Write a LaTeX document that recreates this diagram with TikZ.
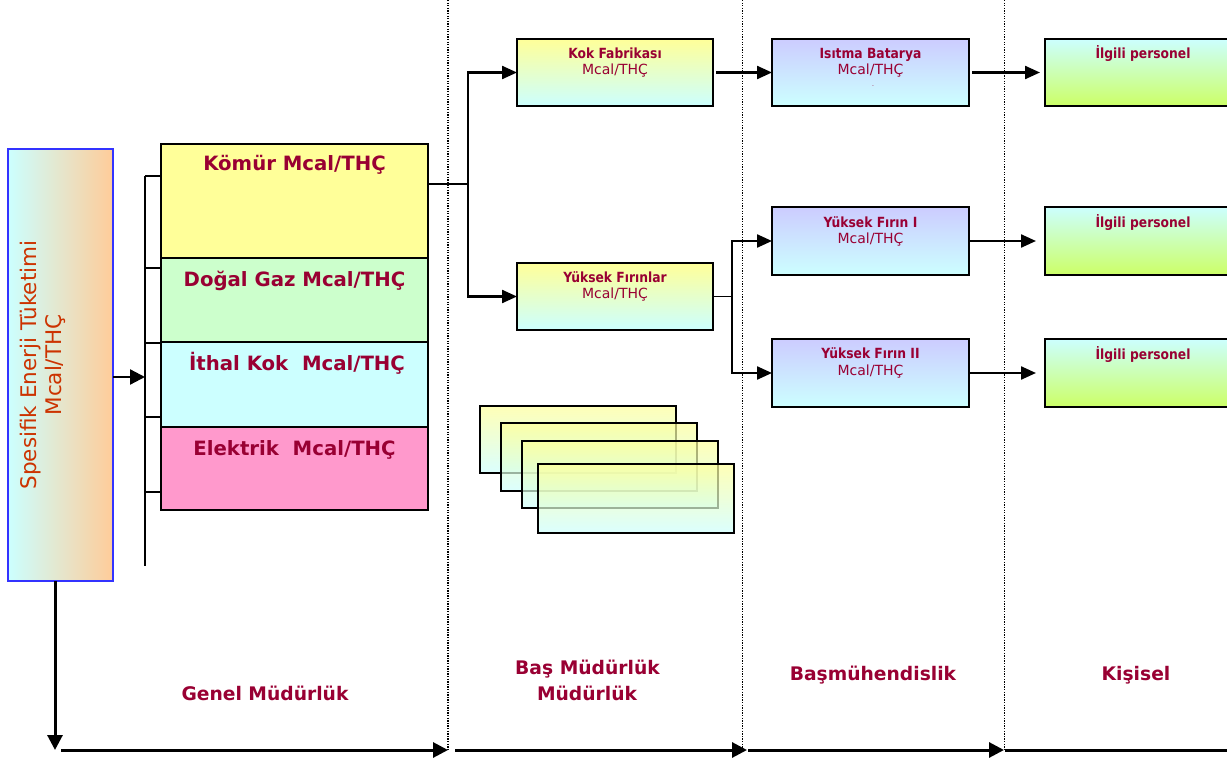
\documentclass[tikz,border=0pt]{standalone}
\usepackage{fontspec}
\setmainfont{DejaVu Sans}
\newfontfamily\tah{DejaVu Sans}[FakeStretch=0.88]
\usetikzlibrary{arrows.meta,calc}
\definecolor{crim}{RGB}{153,0,51}
\definecolor{orng}{RGB}{204,51,0}
\definecolor{cyanL}{RGB}{204,255,255}
\definecolor{yelL}{RGB}{255,255,153}
\definecolor{grnL}{RGB}{204,255,204}
\definecolor{pinkL}{RGB}{255,153,204}
\definecolor{lavL}{RGB}{204,204,255}
\definecolor{limeL}{RGB}{204,255,102}
\definecolor{peachL}{RGB}{255,204,153}
\definecolor{blueB}{RGB}{51,51,255}
\begin{document}
\begin{tikzpicture}[x=1pt,y=-1pt,
  box/.style={draw=black,line width=2.5pt,inner sep=0pt,outer sep=0pt},
  ybox/.style={box,top color=yelL,bottom color=cyanL,minimum width=196pt,minimum height=67pt},
  lbox/.style={box,top color=lavL,bottom color=cyanL,minimum width=197pt,minimum height=68pt},
  gbox/.style={box,top color=cyanL,bottom color=limeL,minimum width=197pt,minimum height=68pt},
  conn/.style={line width=2.3pt,draw=black},
  arr/.style={conn,-{Triangle[length=15pt,width=13pt]}},
  barr/.style={line width=3pt,-{Triangle[length=15pt,width=15pt]}},
  dotline/.style={line width=1.6pt,dash pattern=on 1.3pt off 1.3pt},
  bigt/.style={font=\fontsize{19.7}{23}\selectfont\bfseries,text=crim,inner sep=0pt,anchor=base},
  tt/.style={font=\tah\bfseries\fontsize{14}{16}\selectfont,text=crim,inner sep=0pt,anchor=base},
  ut/.style={font=\fontsize{14}{16}\selectfont,text=crim,inner sep=0pt,anchor=base},
  lab/.style={font=\fontsize{18.7}{22}\selectfont\bfseries,text=crim,inner sep=0pt,anchor=base},
  page/.style={draw=black,line width=2.5pt,top color=yelL,bottom color=cyanL,fill opacity=0.7,draw opacity=1}
]
\useasboundingbox (0,0) rectangle (1227,760);
\fill[white] (0,0) rectangle (1227,760);
\clip (0,0) rectangle (1227,760);

% dotted separators
\draw[dotline] (448,0) -- (448,750);
\draw[dotline] (742.5,0) -- (742.5,750);
\draw[dotline] (1004.5,0) -- (1004.5,750);

% left box
\node[box,left color=cyanL,right color=peachL,draw=blueB,minimum width=105pt,minimum height=432pt] (spec) at (60.5,365) {};
\node[rotate=90,align=center,font=\fontsize{21.5}{25}\selectfont,text=orng,inner sep=0pt] (specT) at (43,365) {Spesifik Enerji Tüketimi\\Mcal/THÇ};

% stacked boxes
\node[box,fill=yelL,minimum width=267pt,minimum height=114pt] (kom) at (294.5,201) {};
\node[box,fill=grnL,minimum width=267pt,minimum height=84pt] (dog) at (294.5,300) {};
\node[box,fill=cyanL,minimum width=267pt,minimum height=85pt] (ith) at (294.5,384.5) {};
\node[box,fill=pinkL,minimum width=267pt,minimum height=83pt] (elk) at (294.5,468.5) {};
\node[bigt] (komT) at (294.5,170.5) {Kömür Mcal/THÇ};
\node[bigt] (dogT) at (294.5,286.5) {Doğal Gaz Mcal/THÇ};
\node[bigt] (ithT) at (297,370) {İthal Kok\ \ Mcal/THÇ};
\node[bigt] (elkT) at (294.5,455) {Elektrik\ \ Mcal/THÇ};

% bracket
\coordinate (bt) at (145,176);
\coordinate (bb) at (145,566);
\coordinate (b2) at (145,268);
\coordinate (b3) at (145,343);
\coordinate (b4) at (145,417);
\coordinate (b5) at (145,492);
\draw[conn] (bt) -- (bb);
\draw[conn] (bt) -- (bt -| kom.west);
\draw[conn] (b2) -- (b2 -| dog.west);
\draw[conn] (b3) -- (b3 -| ith.west);
\draw[conn] (b4) -- (b4 -| ith.west);
\draw[conn] (b5) -- (b5 -| elk.west);
\coordinate (sa) at ($(spec.east)+(0,12)$);
\draw[conn,-{Triangle[length=15pt,width=15pt]}] (sa) -- (sa -| bt);

% column 2
\node[ybox] (kok) at (615,72.5) {};
\node[tt] (kokT) at (615,59) {Kok Fabrikası};
\node[ut] (kokU) at (615,74.5) {Mcal/THÇ};
\node[ybox] (yf) at (615,296.5) {};
\node[tt] (yfT) at (615,282) {Yüksek Fırınlar};
\node[ut] (yfU) at (615,298) {Mcal/THÇ};

% pages
\path[page] (480,406) rectangle (676,473);
\path[page] (501,423) rectangle (697,491);
\path[page] (522,441) rectangle (718,508);
\path[page] (538,464) rectangle (734,533);

% column 3
\node[lbox,minimum height=67pt] (isi) at (870.5,72.5) {};
\node[tt] (isiT) at (870.5,58.5) {Isıtma Batarya};
\node[ut] (isiU) at (870.5,75) {Mcal/THÇ};
\node[ut,font=\fontsize{6}{7}\selectfont] (isiD) at (873,87) {.};
\node[lbox] (yf1) at (870.5,241) {};
\node[tt] (yf1T) at (870.5,227) {Yüksek Fırın I};
\node[ut] (yf1U) at (870.5,243) {Mcal/THÇ};
\node[lbox] (yf2) at (870.5,373) {};
\node[tt] (yf2T) at (870.5,358.5) {Yüksek Fırın II};
\node[ut] (yf2U) at (870.5,375) {Mcal/THÇ};

% column 4
\node[gbox,minimum height=67pt] (il1) at (1143.5,72.5) {};
\node[tt] (il1T) at (1143,59) {İlgili personel};
\node[gbox] (il2) at (1143.5,241) {};
\node[tt] (il2T) at (1143,227) {İlgili personel};
\node[gbox] (il3) at (1143.5,373) {};
\node[tt] (il3T) at (1143,359) {İlgili personel};

% connectors
\coordinate (j1) at (468,184);
\draw[conn] ($(kom.north east)+(0,40)$) -- (j1);
\draw[arr] (j1) |- (kok.west);
\draw[arr] (j1) |- (yf.west);
\coordinate (j2) at (732,296.5);
\draw[line width=1.6pt] (yf.east) -- (j2);
\draw[arr] (j2) |- (yf1.west);
\draw[arr] (j2) |- (yf2.west);
\draw[arr] ($(kok.east)+(3,0)$) -- (isi.west);
\draw[arr,shorten >=5pt] ($(isi.east)+(3,0)$) -- (il1.west);
\draw[arr,shorten >=9pt] (yf1.east) -- (il2.west);
\draw[arr,shorten >=9pt] (yf2.east) -- (il3.west);

% bottom axis
\coordinate (c0) at (55,750);
\coordinate (c1) at (61,750);
\coordinate (c2) at (448,750);
\coordinate (c3) at (455,750);
\coordinate (c4) at (747,750);
\coordinate (c5) at (748,750);
\coordinate (c6) at (1004,750);
\coordinate (c7) at (1005,750);
\coordinate (c8) at (1244,750);
\draw[barr] ($(spec.south)+(-5.5,0)$) -- (c0);
\draw[barr] (c1) -- (c2);
\draw[barr] (c3) -- (c4);
\draw[barr] (c5) -- (c6);
\draw[barr] (c7) -- (c8);

% labels
\node[lab] (genel) at (265,700) {Genel Müdürlük};
\node[lab] (bas1) at (587.5,674) {Baş Müdürlük};
\node[lab] (bas2) at (587,700) {Müdürlük};
\node[lab] (basm) at (873,680.5) {Başmühendislik};
\node[lab] (kis) at (1136,680.5) {Kişisel};
\end{tikzpicture}
\end{document}
